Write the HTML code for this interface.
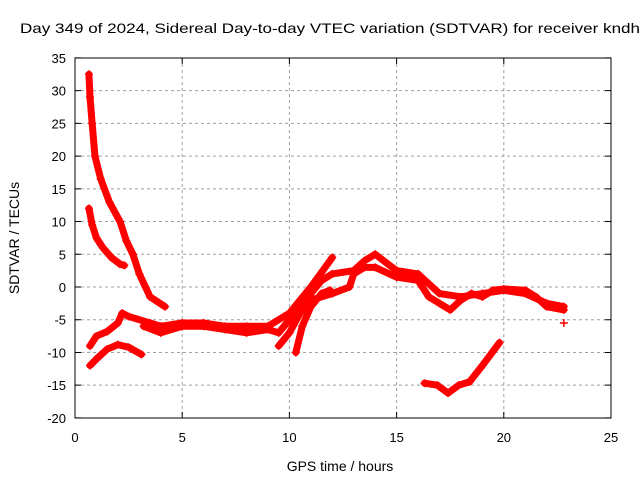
<!DOCTYPE html>
<html><head><meta charset="utf-8"><style>body{margin:0;background:#fff}svg{display:block;font-family:"Liberation Sans",sans-serif}</style></head>
<body>
<svg id="chart" width="640" height="480" viewBox="0 0 640 480" xmlns="http://www.w3.org/2000/svg">
<text x="20" y="33" font-size="14" textLength="620" lengthAdjust="spacingAndGlyphs">Day 349 of 2024, Sidereal Day-to-day VTEC variation (SDTVAR) for receiver kndh</text>
<g id="grid"></g>
<g id="axes"></g>
<g id="series"></g>
<rect x="75" y="58" width="536" height="360" fill="none" stroke="#000" stroke-width="1"/>
<text x="340" y="471" font-size="14" text-anchor="middle">GPS time / hours</text>
<text transform="translate(19,238) rotate(-90)" font-size="14" text-anchor="middle">SDTVAR / TECUs</text>
</svg>
<script>
const xTicks=[0,5,10,15,20,25];
const yTicks=[35,30,25,20,15,10,5,0,-5,-10,-15,-20];
const trackA=[[0.65,32.5],[0.7,29],[0.8,25],[0.93,20],[1.2,16.5],[1.6,13],[2.1,10],[2.4,7],[2.7,5],[3.0,2],[3.5,-1.5],[4.2,-3]];
const trackB=[[0.65,12],[0.8,9.5],[1.0,7.5],[1.3,6],[1.7,4.5],[2.1,3.5],[2.3,3.3]];
const trackC=[[0.7,-12],[1.0,-11],[1.5,-9.5],[2.0,-8.8],[2.5,-9.2],[3.1,-10.3]];
const trackD=[[0.7,-9],[1.0,-7.5],[1.5,-6.8],[2.0,-5.5],[2.2,-4],[2.5,-4.5],[3.5,-5.5],[4.0,-6],[5.0,-5.5],[6,-5.5],[7,-6],[8,-6],[9,-6],[10,-4],[11,0],[12,4.5]];
const trackE=[[3.2,-6],[4,-7],[5,-6],[6,-6],[7,-6.5],[8,-7],[9,-6.5],[9.5,-7],[10,-5],[11,-1],[11.5,1],[12,2],[13,2.5],[13.5,4],[14,5],[15,2.5],[16,2],[17,-1],[18,-1.5],[19,-1],[20,-0.5],[21,-1],[22,-2.5],[22.8,-3]];
const trackF=[[9.5,-9],[10,-7],[10.5,-4],[11,-2],[12,-1],[12.8,0],[13,2],[13.5,3],[14,3],[15,1.5],[16,1],[16.5,-1.5],[17,-2.5],[17.5,-3.5],[18,-2],[18.5,-1],[19,-1.5],[19.5,-0.5],[20,-0.3],[21,-0.5],[21.5,-1.5],[22,-3],[22.8,-3.5]];
const trackG=[[10.3,-10],[10.6,-6],[11,-3],[11.5,-1],[11.9,-0.5]];
const trackH=[[16.3,-14.7],[16.9,-15],[17.4,-16.2],[17.9,-15],[18.4,-14.5],[19,-12],[19.8,-8.5]];
const trackI=[[22.8,-5.5]];
const tracks=[trackA,trackB,trackC,trackD,trackE,trackF,trackG,trackH,trackI];
const NS="http://www.w3.org/2000/svg";
const X=h=>75+h*(536/25);
const Y=v=>287-v*(360/55);
function mk(t,p,a){const e=document.createElementNS(NS,t);for(const k in a)e.setAttribute(k,a[k]);p.appendChild(e);return e;}
const grid=document.getElementById('grid'),axes=document.getElementById('axes'),ser=document.getElementById('series');
xTicks.forEach(t=>{const x=X(t);
 if(t>0&&t<25){const l=mk('line',grid,{x1:x,x2:x,y1:58,y2:418,stroke:'#a0a0a0','stroke-dasharray':'3,3'});}
 const tk=mk('path',axes,{d:`M${x},418v-6M${x},58v6`,stroke:'#000'});
 const tx=mk('text',axes,{x:x,y:442,'font-size':13,'text-anchor':'middle'});tx.textContent=t;});
yTicks.forEach(t=>{const y=Y(t);
 if(t>-20&&t<35){const l=mk('line',grid,{x1:75,x2:611,y1:y,y2:y,stroke:'#a0a0a0','stroke-dasharray':'3,3'});}
 const tk=mk('path',axes,{d:`M75,${y}h6M611,${y}h-6`,stroke:'#000'});
 const tx=mk('text',axes,{x:66,y:y+5,'font-size':13,'text-anchor':'end'});tx.textContent=t;});
tracks.forEach(tr=>{
 if(tr.length>1){const p=mk('polyline',ser,{points:tr.map(d=>X(d[0])+','+Y(d[1])).join(' '),fill:'none',stroke:'#f00','stroke-width':7,'stroke-linejoin':'round','stroke-linecap':'round'});
 }
 tr.forEach(d=>{const m=mk('path',ser,{d:`M${X(d[0])-4},${Y(d[1])}h8M${X(d[0])},${Y(d[1])-4}v8`,stroke:'#f00','stroke-width':1.5});
 });
});
</script>
</body></html>
